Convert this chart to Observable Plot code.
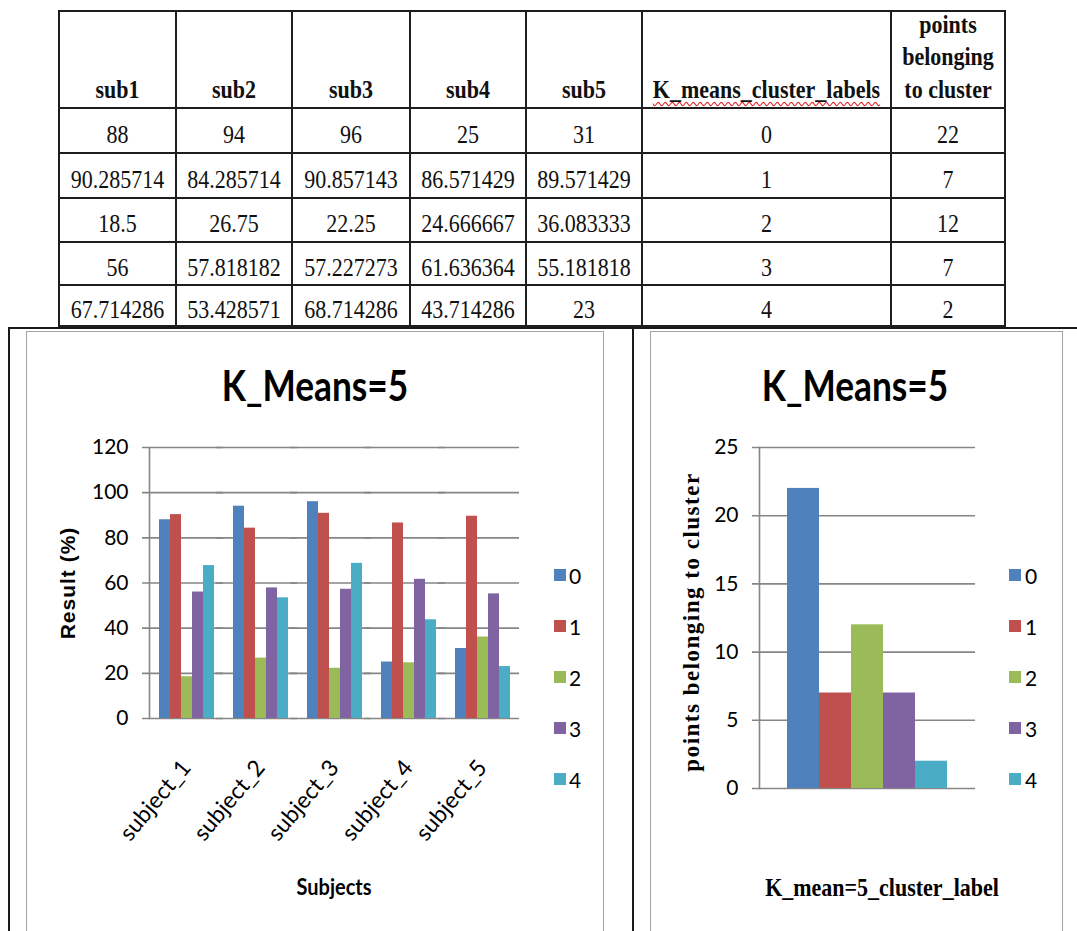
<!DOCTYPE html>
<html>
<head>
<meta charset="utf-8">
<script src="https://cdn.jsdelivr.net/npm/d3@7"></script>
<script src="https://cdn.jsdelivr.net/npm/@observablehq/plot@0.6"></script>
<style>
  body { margin: 0; background: #fff; }
  #page { position: relative; width: 1077px; height: 931px; overflow: hidden; background: #fff; }
  .abs { position: absolute; }
  table.scores {
    position: absolute; left: 58px; top: 10px;
    border-collapse: collapse; table-layout: fixed;
    font-family: "Liberation Serif", "Times New Roman", serif; font-size: 22px; color: #111;
  }
  table.scores td, table.scores th { border: 2px solid #1e1e1e; text-align: center; padding: 0; }
  table.scores td { padding-top: 8px; }
  table.scores th { font-weight: bold; vertical-align: bottom; padding-bottom: 1px; line-height: 28px; }
  table.scores span { display: inline-block; transform: scaleY(1.16); }
  table.scores th span { transform-origin: 50% 100%; }
  .wavy { text-decoration: underline wavy #e02020; text-decoration-thickness: 1px; text-underline-offset: 3px; }
  .lbl { position: absolute; white-space: nowrap; line-height: 1; }
</style>
</head>
<body>
<div id="page"></div>
<script>
// ---- data ----------------------------------------------------------------
const subjects = ["subject_1", "subject_2", "subject_3", "subject_4", "subject_5"];
const clusters = [0, 1, 2, 3, 4];
// mean result (%) per subject for each cluster 0..4
const sub1 = [88, 90.285714, 18.5, 56, 67.714286];
const sub2 = [94, 84.285714, 26.75, 57.818182, 53.428571];
const sub3 = [96, 90.857143, 22.25, 57.227273, 68.714286];
const sub4 = [25, 86.571429, 24.666667, 61.636364, 43.714286];
const sub5 = [31, 89.571429, 36.083333, 55.181818, 23];
// number of points in each cluster
const pointsInCluster = [22, 7, 12, 7, 2];

const tableHeaders = ["sub1", "sub2", "sub3", "sub4", "sub5", "K_means_cluster_labels", "points belonging to cluster"];
const yTicksLeft = [0, 20, 40, 60, 80, 100, 120];
const yTicksRight = [0, 5, 10, 15, 20, 25];
const chartTitle = "K_Means=5";
const leftXLabel = "Subjects";
const leftYLabel = "Result (%)";
const rightXLabel = "K_mean=5_cluster_label";
const rightYLabel = "points belonging to cluster";

// ---- styling ---------------------------------------------------------------
const clusterColors = ["#4f81bd", "#c0504d", "#9bbb59", "#8064a2", "#4bacc6"];
const gridGray = "#868686";

const page = document.getElementById("page");

// ---- table -----------------------------------------------------------------
const subjectCols = [sub1, sub2, sub3, sub4, sub5];
const colWidths = [117, 116, 118, 116, 116, 249, 114];
const rowHeights = [97, 45, 45, 44, 43, 41];

const table = d3.select(page).append("table").attr("class", "scores");
const cg = table.append("colgroup");
colWidths.forEach(w => cg.append("col").style("width", w + "px"));
const head = table.append("tr").style("height", rowHeights[0] + "px");
tableHeaders.forEach(h => {
  const span = head.append("th").append("span").text(h);
  if (h === "K_means_cluster_labels") span.attr("class", "wavy");
});
clusters.forEach((c, j) => {
  const tr = table.append("tr").style("height", rowHeights[j + 1] + "px");
  subjectCols.forEach(col => tr.append("td").append("span").text(String(col[j])));
  tr.append("td").append("span").text(String(c));
  tr.append("td").append("span").text(String(pointsInCluster[j]));
});

// ---- frame lines and panel borders ----------------------------------------
function box(left, top, width, height, css) {
  const d = document.createElement("div");
  d.className = "abs";
  Object.assign(d.style, {left: left + "px", top: top + "px", width: width + "px", height: height + "px", boxSizing: "border-box"}, css);
  page.appendChild(d);
  return d;
}
box(8, 327, 1069, 2, {background: "#1a1a1a"});
box(8, 327, 2, 604, {background: "#1a1a1a"});
box(632, 327, 2, 604, {background: "#1a1a1a"});
box(26, 331, 578, 640, {border: "1.5px solid #a3a3a3"});
box(650, 331, 413, 640, {border: "1.5px solid #a3a3a3"});

// ---- text helper -----------------------------------------------------------
function label(text, cx, cy, css, transform = "") {
  const d = document.createElement("div");
  d.className = "lbl";
  d.textContent = text;
  Object.assign(d.style, {left: cx + "px", top: cy + "px", transform: "translate(-50%, -50%) " + transform}, css);
  page.appendChild(d);
  return d;
}

// ---- left chart: result per subject, grouped by cluster -------------------
const scoreRows = [];
subjects.forEach((s, i) => clusters.forEach((c, j) => scoreRows.push({subject: s, cluster: c, value: subjectCols[i][j]})));

const leftChart = Plot.plot({
  width: 577, height: 511,
  marginTop: 27, marginBottom: 213, marginLeft: 123, marginRight: 84,
  style: {fontFamily: "Lato, sans-serif", fontSize: "21px", color: "#000", background: "transparent", overflow: "visible"},
  fx: {domain: subjects, paddingInner: 0, paddingOuter: 0, label: null},
  x: {type: "band", domain: clusters, paddingInner: 0, paddingOuter: 0.75, axis: null},
  y: {domain: [0, 120]},
  color: {type: "ordinal", domain: clusters, range: clusterColors},
  marks: [
    Plot.gridY(yTicksLeft, {stroke: gridGray, strokeOpacity: 1, strokeWidth: 1.6, insetLeft: -7}),
    Plot.barY(scoreRows, {fx: "subject", x: "cluster", y: "value", fill: "cluster"}),
    Plot.frame({anchor: "left", facetAnchor: "left", stroke: gridGray, strokeWidth: 1.6}),
    Plot.axisY(yTicksLeft, {tickSize: 0, tickPadding: 21, fontSize: 21, label: null}),
    Plot.axisFx({anchor: "bottom", tickSize: 0, tickPadding: 45, tickRotate: -50, fontSize: 23, label: null})
  ]
});
Object.assign(leftChart.style, {position: "absolute", left: "26px", top: "420px"});
page.appendChild(leftChart);

// ---- right chart: cluster sizes -------------------------------------------
const pointRows = clusters.map((c, j) => ({cluster: c, points: pointsInCluster[j]}));

const rightChart = Plot.plot({
  width: 412, height: 511,
  marginTop: 27, marginBottom: 143, marginLeft: 109, marginRight: 87,
  style: {fontFamily: "Lato, sans-serif", fontSize: "21px", color: "#000", background: "transparent", overflow: "visible"},
  x: {type: "band", domain: clusters, paddingInner: 0, paddingOuter: 0.8, axis: null},
  y: {domain: [0, 25]},
  color: {type: "ordinal", domain: clusters, range: clusterColors},
  marks: [
    Plot.gridY(yTicksRight, {stroke: gridGray, strokeOpacity: 1, strokeWidth: 1.6, insetLeft: -7}),
    Plot.barY(pointRows, {x: "cluster", y: "points", fill: "cluster"}),
    Plot.frame({anchor: "left", stroke: gridGray, strokeWidth: 1.6}),
    Plot.axisY(yTicksRight, {tickSize: 0, tickPadding: 21, fontSize: 21, label: null})
  ]
});
Object.assign(rightChart.style, {position: "absolute", left: "650px", top: "420px"});
page.appendChild(rightChart);

// ---- titles and axis labels ------------------------------------------------
const titleCss = {fontFamily: "Lato, sans-serif", fontWeight: "bold", fontSize: "42px", color: "#000"};
label(chartTitle, 315, 385, titleCss, "scaleX(0.84)");
label(chartTitle, 855, 385, titleCss, "scaleX(0.84)");
label(leftXLabel, 334, 886, {fontFamily: "Lato, sans-serif", fontWeight: "bold", fontSize: "20px", color: "#000"}, "scaleY(1.12)");
label(leftYLabel, 67, 583, {fontFamily: "'Liberation Sans', Arial, sans-serif", fontWeight: "bold", fontSize: "21px", letterSpacing: "1px", color: "#000"}, "rotate(-90deg)");
label(rightXLabel, 882, 888, {fontFamily: "'Liberation Serif', serif", fontWeight: "bold", fontSize: "22px", color: "#000"}, "scaleY(1.12)");
label(rightYLabel, 691, 622, {fontFamily: "'Liberation Serif', serif", fontWeight: "bold", fontSize: "23px", letterSpacing: "1.5px", color: "#000"}, "rotate(-90deg)");

// ---- legends -----------------------------------------------------------------
function legend(squareLeft, textLeft) {
  clusters.forEach((c, i) => {
    const cy = 575 + i * 51;
    box(squareLeft, cy - 6, 12, 12, {background: clusterColors[i]});
    const t = document.createElement("div");
    t.className = "lbl";
    t.textContent = String(c);
    Object.assign(t.style, {left: textLeft + "px", top: cy + "px", transform: "translateY(-50%)", fontFamily: "Lato, sans-serif", fontSize: "21px", color: "#000"});
    page.appendChild(t);
  });
}
legend(554, 569);
legend(1009, 1025);
</script>
</body>
</html>
